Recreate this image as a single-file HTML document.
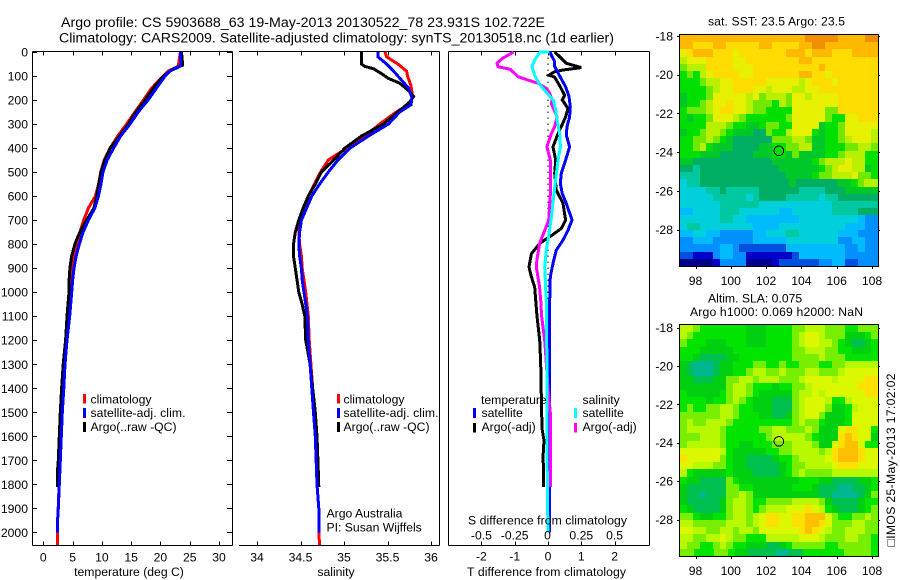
<!DOCTYPE html>
<html lang="en">
<head>
<meta charset="utf-8">
<title>Argo profile chart</title>
<style>
html,body{margin:0;padding:0;background:#fff;width:900px;height:580px;overflow:hidden}
svg{display:block;position:absolute;left:0;top:0}
text{font-family:"Liberation Sans",sans-serif;font-size:12.2px;fill:#000}
.t{font-size:14.2px}
</style>
</head>
<body>
<svg id="chart" xmlns="http://www.w3.org/2000/svg" width="900" height="580" viewBox="0 0 900 580">
  <g id="maps"></g>
  <g id="axes"></g>
  <g id="series"></g>
  <g id="labels"></g>

  <text class="t" x="61" y="27" textLength="484">Argo profile: CS 5903688_63 19-May-2013 20130522_78 23.931S 102.722E</text>
  <text class="t" x="59" y="42.5" textLength="555">Climatology: CARS2009. Satellite-adjusted climatology: synTS_20130518.nc (1d earlier)</text>

  <text x="129" y="576" text-anchor="middle">temperature (deg C)</text>
  <text x="336" y="576" text-anchor="middle">salinity</text>
  <text x="467" y="576" textLength="159">T difference from climatology</text>
  <text x="468" y="524.5" textLength="159">S difference from climatology</text>

  <g>
    <rect x="83" y="394" width="3" height="9.5" fill="#f00"/>
    <rect x="83" y="408" width="3" height="10" fill="#00f"/>
    <rect x="83" y="422" width="3" height="10" fill="#000"/>
    <text x="90.5" y="403.5">climatology</text>
    <text x="90.5" y="417" textLength="95">satellite-adj. clim.</text>
    <text x="90.5" y="431">Argo(..raw -QC)</text>
  </g>
  <g>
    <rect x="337" y="394" width="3" height="9.5" fill="#f00"/>
    <rect x="337" y="408" width="3" height="10" fill="#00f"/>
    <rect x="337" y="422" width="3" height="10" fill="#000"/>
    <text x="343.5" y="403.5">climatology</text>
    <text x="343.5" y="417" textLength="95">satellite-adj. clim.</text>
    <text x="343.5" y="431">Argo(..raw -QC)</text>
  </g>
  <text x="326.5" y="517.5">Argo Australia</text>
  <text x="326.5" y="531.5">PI: Susan Wijffels</text>

  <g>
    <text x="481" y="404">temperature</text>
    <rect x="473" y="408" width="3" height="10" fill="#00f"/>
    <text x="481.5" y="417">satellite</text>
    <rect x="473" y="423" width="3" height="9.5" fill="#000"/>
    <text x="481.5" y="431">Argo(-adj)</text>
    <text x="582.5" y="404">salinity</text>
    <rect x="574" y="408" width="3" height="10" fill="#0ff"/>
    <text x="582.5" y="417">satellite</text>
    <rect x="574" y="423" width="3" height="9.5" fill="#f0f"/>
    <text x="582.5" y="431">Argo(-adj)</text>
  </g>

  <text x="708" y="25.5" textLength="137">sat. SST: 23.5  Argo: 23.5</text>
  <text x="708" y="302.5">Altim. SLA: 0.075</text>
  <text x="690" y="316" textLength="173">Argo h1000: 0.069 h2000: NaN</text>
  <text transform="translate(895,546.5) rotate(-90)" x="0" y="0" textLength="173" style="font-family:'Liberation Sans','DejaVu Sans',sans-serif">□IMOS 25-May-2013 17:02:02</text>
</svg>

<script>
// ---------- temperature profile data (dbar, deg C) ----------
const tempClimDepth = [0,50,60,80,100,150,200,250,300,350,400,450,500,550,600,650,700,750,800,850,900,1000,1100,1200,1300,1400,1500,1600,1700,1800,1900,1950,2000,2052];
const tempClimValue = [23.4,23.1,23.0,21.3,20.5,18.5,17.1,15.65,14.2,12.7,11.4,10.4,9.8,9.45,8.9,7.7,6.9,6.25,5.8,5.25,4.9,4.55,4.4,4.0,3.65,3.45,3.2,3.05,2.9,2.7,2.55,2.45,2.4,2.4];
const tempSatDepth = [0,50,60,80,100,150,200,250,300,350,400,450,500,550,600,650,700,750,800,850,900,950,1000,1100,1200,1300,1400,1500,1600,1700,1800,1900,1950,2000];
const tempSatValue = [23.4,23.5,23.3,21.6,20.8,19.35,17.9,16.2,14.8,13.2,12.0,10.9,10.2,9.85,9.4,8.8,7.7,6.8,6.15,5.6,5.25,5.0,4.85,4.5,4.05,3.7,3.5,3.25,3.07,2.9,2.73,2.56,2.45,2.4];
const tempArgoDepth = [0,55,70,100,150,200,250,300,350,400,450,500,600,650,700,750,780,800,850,900,950,1000,1100,1200,1300,1400,1500,1600,1700,1750,1811];
const tempArgoValue = [23.6,23.8,22.2,20.5,18.8,17.4,15.8,14.5,13.0,11.4,10.5,9.85,9.1,8.65,7.4,6.25,5.7,5.4,4.84,4.55,4.4,4.38,4.04,3.8,3.4,3.13,2.9,2.73,2.56,2.4,2.4];

// ---------- salinity profile data ----------
const salClimDepth = [0,20,50,80,100,140,190,220,250,300,350,400,450,500,600,650,700,750,800,850,900,1000,1100,1200,1300,1400,1500,1600,1800,1900,2000,2052];
const salClimValue = [35.47,35.49,35.62,35.72,35.73,35.77,35.79,35.74,35.6,35.41,35.24,35.03,34.82,34.73,34.59,34.54,34.49,34.48,34.49,34.51,34.52,34.56,34.59,34.6,34.62,34.64,34.66,34.67,34.69,34.71,34.71,34.72];
const salSatDepth = [0,20,50,80,100,150,190,220,250,300,350,400,450,500,550,600,650,700,750,800,850,900,950,1000,1100,1200,1300,1400,1500,1600,1700,1800,1900,2000];
const salSatValue = [35.39,35.39,35.49,35.57,35.62,35.74,35.78,35.77,35.64,35.51,35.28,35.07,34.93,34.82,34.72,34.63,34.57,34.51,34.49,34.48,34.49,34.51,34.52,34.54,34.58,34.59,34.61,34.63,34.65,34.67,34.68,34.69,34.71,34.71];
const salArgoDepth = [0,50,60,70,90,110,130,160,185,210,250,300,350,400,450,500,550,600,650,700,750,800,850,900,1000,1050,1100,1200,1300,1400,1500,1600,1700,1811];
const salArgoValue = [35.2,35.2,35.24,35.34,35.43,35.51,35.64,35.74,35.8,35.75,35.62,35.45,35.2,35.01,34.88,34.74,34.67,34.59,34.53,34.48,34.44,34.42,34.42,34.44,34.48,34.52,34.55,34.56,34.61,34.64,34.67,34.69,34.7,34.71];

// ---------- difference profile data ----------
const diffTSatDepth = [0,40,60,100,145,185,228,270,310,345,395,450,505,547,590,630,700,742,783,825,880,936,1033,1200,1500,1800,2000];
const diffTSatValue = [0.05,0.2,0.2,0.35,0.53,0.63,0.67,0.65,0.57,0.55,0.65,0.53,0.4,0.37,0.43,0.55,0.72,0.6,0.45,0.25,0.15,0.07,0.05,0.04,0.04,0.04,0.04];
const diffTArgoDepth = [0,26,47,65,75,82,96,105,145,180,200,235,270,310,340,395,450,505,575,630,700,735,762,797,840,895,936,979,1033,1100,1200,1300,1430,1567,1617,1687,1750,1811];
const diffTArgoValue = [0.2,0.4,0.55,1.0,0.45,0.2,0.03,0.2,0.37,0.5,0.43,0.6,0.53,0.4,0.3,0.15,0.23,0.2,0.25,0.45,0.53,0.4,0.13,-0.25,-0.5,-0.57,-0.5,-0.4,-0.37,-0.33,-0.25,-0.22,-0.2,-0.18,-0.12,-0.15,-0.13,-0.13];
const diffSSatDepth = [0,1,33,61,96,130,165,200,242,283,340,395,450,505,590,688,755,825,895,979,1033,1300,1800,2000];
const diffSSatValue = [0.012,-0.06,-0.1,-0.12,-0.1,-0.07,-0.018,0.04,0.058,0.068,0.088,0.093,0.075,0.063,0.045,0.025,0.008,-0.013,-0.025,-0.018,-0.013,-0.008,-0.005,0];
const diffSArgoDepth = [0,26,47,61,72,103,117,130,152,173,200,214,270,310,340,395,450,590,700,755,797,866,895,979,1033,1100,1200,1300,1400,1505,1600,1811];
const diffSArgoValue = [-0.258,-0.34,-0.383,-0.375,-0.283,-0.225,-0.15,-0.075,-0.0125,0.0125,0.033,0.025,0.068,0.05,0.025,-0.008,0.018,0.018,0.005,-0.033,-0.063,-0.083,-0.088,-0.063,-0.055,-0.048,-0.025,-0.012,0.0,0.018,0.018,0.018];

// ---------- tick labels ----------
const depthTicks = [0,100,200,300,400,500,600,700,800,900,1000,1100,1200,1300,1400,1500,1600,1700,1800,1900,2000];
const tempTicks = [0,5,10,15,20,25,30];
const salTicks = [34,34.5,35,35.5,36];
const salTickLabels = ["34","34.5","35","35.5","36"];
const diffTTicks = [-2,-1,0,1,2];
const diffSTicks = [-0.5,-0.25,0,0.25,0.5];
const diffSTickLabels = ["-0.5","-0.25","0","0.25","0.5"];
const lonTicks = [98,100,102,104,106,108];
const latTicks = [-18,-20,-22,-24,-26,-28];
const floatLon = 102.722;
const floatLat = -23.931;

// ---------- map grids: each char is a colour class 0 (lowest) .. F (highest) ----------
const sstRows = [
"EEEEEEEEEEEEEEEEEEEFFFFFEEEEFF",
"EEDDDEEDDDDDEEDDDDEEFFEEEEEEEE",
"CDEEEDDDCDDDDDDDEEEDEEEDDDEEEE",
"BCCCDDDDCCDDDDDDDDEEDDDDDDDDDD",
"ABBBDDDDCCCDDDDDDDDDDEDDDDDDDD",
"9A9BCDDDDCCDDDDDDDEEDDCDDDDDDD",
"999ABBCCDDDDDCCCCCBCDDDCDDDDDD",
"9999ABCCDDDCCBCCCBBCCDDDDDDDDD",
"8999ACCCCCBCABBBACCBCCCCDDDDDD",
"899ABCCDCCBAAA9BACCCCCCCDDDDDD",
"9AAABCDDCCBAA9999CCCCCAADDDDDD",
"9899ACCCBA999999ACCCCCA99CCDDD",
"9999BBBA99889AA99CCCC899ACCCCC",
"899ABBA988877A99BCCC9899ACCCCB",
"99AABA98777777AAABBA8899ABCCCB",
"99AB988877778899AABB88999AABBA",
"99988877777888998A888899ABBB99",
"887777777777778888889ABBBCBB99",
"776777777777777888888 9ABCCBB89".replace(" ","").slice(0,30),
"666777777777777788889AABBBCAA9".slice(0,30),
"566777777777777787777 77889ABB".replace(" ",""),
"555566766666777777666677788888",
"555556666656777766666566777777",
"555555666666555555555556666666",
"445555666555555445555556666777",
"555555665544444444555555555433",
"566555555554444555555555544433",
"445544333334455566555555444333",
"334443333334444455555555334433",
"333333443222222244444444433433",
"221113443311111112444444433333",
"000001333300001222222334422333"
];
const slaRows = [
"BBA99999998889999AABBBAAA99AAA",
"BA999999998889999ABCCBAAA8889A",
"A9998889998889999ABCCBBA987789",
"99988888999999999AABBBAA998889",
"99877778899999999AAAABAAA99999",
"87666788999AA99A99AAA99AABBBBB",
"8766678899ABBAABAAABBAAABCCCCC",
"8877788AABBABBBAAABCCCCBCCCCDD",
"8888888ABBA999899AABCCCCCCCDDD",
"9888889ABBA988888ABBCBCCCCCCDD",
"9999899ABA9888777ABCCCB99BCCCC",
"9A99AABBA99888777ABCCCA889BCCC",
"AAAAAABBA99988778ABCCA8889CCCC",
"ABAABBBA999999999ABAA98889CCCC",
"ABBBBBA99999AABBAAABA888CDDCC9",
"AAABBBA999999ABBBBBA9888DEDCC8",
"ABBBBBA9988999AAABBBA88CDEEC99",
"CCCCCCB98888899AABBBBABDEEEDCC",
"DCCCCCA9887777899ABBBBCDEEEDCC",
"CCBBBAA9887777789AABBBBCDDDCCC",
"B9888889888777789ABAAAABBBBBBB",
"9887777A9888888888999887777889",
"8777777AA99888888999877766 7789".replace(" ",""),
"8776777AABA888888888877666678A",
"8777778ABBA99AAAABBBBA87777899",
"9877778ABBA9ABBBCCCDCB9877789A",
"AA98899ABBABCDDCCDDEEECA99AABA",
"BBAAAAABBBABCDDCCDDEEDCAAABBAA",
"CCBBAABBABBACCCCCCDEDCBAABBBAA",
"BBAABBCBAA999BBBBBCCCBAAABBAA9",
"BAA99ABA998887789AAAAA99AAAAA9",
"AA999AA9887777667799 9999AAAA9".replace(" ","")
];
const sstColours = ["#00008c","#0000c8","#0050e0","#0090ff","#00bcff","#00d0dc","#00c8a0","#00ae64","#00c828","#00e000","#70e800","#b8f000","#e6f000","#ffdc00","#ffb800","#f09000"];
const slaColours = ["#00008c","#0000c8","#0050e0","#0090ff","#00bcff","#00d0dc","#00b890","#00c050","#00d010","#00e400","#78ee00","#b8f800","#dcf800","#ffe000","#ffc000","#f09000"];

// ---------- helpers ----------
const NS = "http://www.w3.org/2000/svg";
function mk(tag, attrs, parent) {
  const e = document.createElementNS(NS, tag);
  for (const k in attrs) e.setAttribute(k, attrs[k]);
  parent.appendChild(e);
  return e;
}
const gAxes = document.getElementById("axes");
const gSeries = document.getElementById("series");
const gLabels = document.getElementById("labels");
const gMaps = document.getElementById("maps");

const TOP = 51.5, BOTTOM = 545.5;
const yD = d => 52 + d * 0.2402;
const xT = v => 43.3 + v * 5.857;
const xS = v => 257 + (v - 34) * 87;
const xDT = v => 548 + v * 33.3;
const xDS = v => 548 + v * 133.2;

function hLine(x1, x2, y, p) { return mk("line", {x1, x2, y1: y, y2: y, stroke: "#000", "stroke-width": 1, "shape-rendering": "crispEdges"}, p); }
function vLine(x, y1, y2, p) { return mk("line", {x1: x, x2: x, y1, y2, stroke: "#000", "stroke-width": 1, "shape-rendering": "crispEdges"}, p); }
function poly(depths, values, xf, colour, w, p) {
  const pts = depths.map((d, i) => xf(values[i]).toFixed(1) + "," + yD(d).toFixed(1)).join(" ");
  return mk("polyline", {points: pts, fill: "none", stroke: colour, "stroke-width": w, "stroke-linejoin": "miter", "shape-rendering": "crispEdges"}, p);
}
function label(x, y, txt, anchor, p) {
  const e = mk("text", {x, y, "text-anchor": anchor}, p);
  e.textContent = txt;
  return e;
}

// ---------- panel frames ----------
const frames = [[32.5, 232.5, true, true], [239, 439.5, false, true], [448.5, 649.5, true, true]];
frames.forEach(f => {
  const top = hLine(f[0], f[1], TOP, gAxes);
  
  
  const bottom = hLine(f[0], f[1], BOTTOM, gAxes);
  
  
  if (f[2]) {
    const left = vLine(f[0], TOP, BOTTOM, gAxes);
    
    
  }
  if (f[3]) {
    const right = vLine(f[1], TOP, BOTTOM, gAxes);
    
    
  }
});

// ---------- depth ticks + labels ----------
depthTicks.forEach(d => {
  const y = Math.round(yD(d)) + 0.5;
  const l = hLine(32.5, 37, y, gAxes);
  
  
  const r = hLine(227, 232.5, y, gAxes);
  
  
  const t = label(28, yD(d) + 4.5, String(d), "end", gLabels);
  
  
});

// ---------- x ticks ----------
function xTicks(values, labels, xf, p, baseline) {
  values.forEach((v, i) => {
    const x = Math.round(xf(v)) + 0.5;
    const a = vLine(x, TOP, TOP + 4, gAxes);
    
    
    const b = vLine(x, BOTTOM - 4, BOTTOM, gAxes);
    
    
    const t = label(xf(v), baseline, labels[i], "middle", p);
    
    
  });
}
xTicks(tempTicks, tempTicks.map(String), xT, gLabels, 561.5);
xTicks(salTicks, salTickLabels, xS, gLabels, 561.5);
xTicks(diffTTicks, diffTTicks.map(String), xDT, gLabels, 560.5);
diffSTicks.forEach((v, i) => {
  const t = label(xDS(v) - (v === 0 ? 0.5 : 0), 539.5, diffSTickLabels[i], "middle", gLabels);
  
  
});

// ---------- zero line ----------
const zero = mk("line", {x1: xDT(0), x2: xDT(0), y1: TOP, y2: yD(2000), stroke: "#000", "stroke-width": 1, "stroke-dasharray": "1.5 4.5", "shape-rendering": "crispEdges"}, gSeries);



// ---------- series ----------
const s1 = poly(tempClimDepth, tempClimValue, xT, "#f00", 3, gSeries);


const s2 = poly(tempArgoDepth, tempArgoValue, xT, "#000", 3, gSeries);


const s3 = poly(tempSatDepth, tempSatValue, xT, "#00f", 3, gSeries);



const s4 = poly(salClimDepth, salClimValue, xS, "#f00", 3, gSeries);


const s5 = poly(salArgoDepth, salArgoValue, xS, "#000", 3, gSeries);


const s6 = poly(salSatDepth, salSatValue, xS, "#00f", 3, gSeries);



const s7 = poly(diffTArgoDepth, diffTArgoValue, xDT, "#000", 3, gSeries);


const s8 = poly(diffTSatDepth, diffTSatValue, xDT, "#00f", 3, gSeries);


const s9 = poly(diffSArgoDepth, diffSArgoValue, xDS, "#f0f", 3, gSeries);


const s10 = poly(diffSSatDepth, diffSSatValue, xDS, "#0ff", 3, gSeries);



// ---------- maps ----------
function drawMap(rows, palette, box) {
  const xLon = lon => 695.5 + (lon - 98) * 17.65;
  const yLat = lat => box.lat18 + (-18 - lat) * box.perDeg;
  const h = (box.bottom - box.top) / rows.length;
  rows.forEach((row, r) => {
    const w = (box.right - box.left) / row.length;
    for (let c = 0; c < row.length; c++) {
      const x0 = Math.round(box.left + c * w), x1 = Math.round(box.left + (c + 1) * w);
      const y0 = Math.round(box.top + r * h), y1 = Math.round(box.top + (r + 1) * h);
      const cell = mk("rect", {x: x0, y: y0, width: x1 - x0, height: y1 - y0, fill: palette[parseInt(row[c], 16)], "shape-rendering": "crispEdges"}, gMaps);
      
      
    }
  });
  const border = mk("rect", {x: box.left - 0.5, y: box.top - 0.5, width: box.right - box.left + 1, height: box.bottom - box.top + 1, fill: "none", stroke: "#000", "stroke-width": 1, "shape-rendering": "crispEdges"}, gMaps);
  
  
  lonTicks.forEach(lon => {
    const x = Math.round(xLon(lon)) + 0.5;
    const tk = vLine(x, box.bottom, box.bottom + 3, gMaps);
    
    
    const t = label(xLon(lon), box.bottom + 19, String(lon), "middle", gMaps);
    
    
  });
  latTicks.forEach(lat => {
    const y = Math.round(yLat(lat)) + 0.5;
    const tl = hLine(box.left - 3, box.left, y, gMaps);
    
    
    const tr = hLine(box.right, box.right + 2, y, gMaps);
    
    
    const t = label(673, yLat(lat) + 4.5, String(lat), "end", gMaps);
    
    
  });
  const dot = mk("circle", {cx: xLon(floatLon), cy: yLat(floatLat), r: 4.8, fill: "none", stroke: "#000", "stroke-width": 1, "shape-rendering": "crispEdges"}, gMaps);
  
  
}
drawMap(sstRows, sstColours, {left: 680, right: 878, top: 35, bottom: 266, lat18: 36, perDeg: 19.35});
drawMap(slaRows, slaColours, {left: 680, right: 878, top: 325, bottom: 556, lat18: 327.5, perDeg: 19.2});
</script>
</body>
</html>
